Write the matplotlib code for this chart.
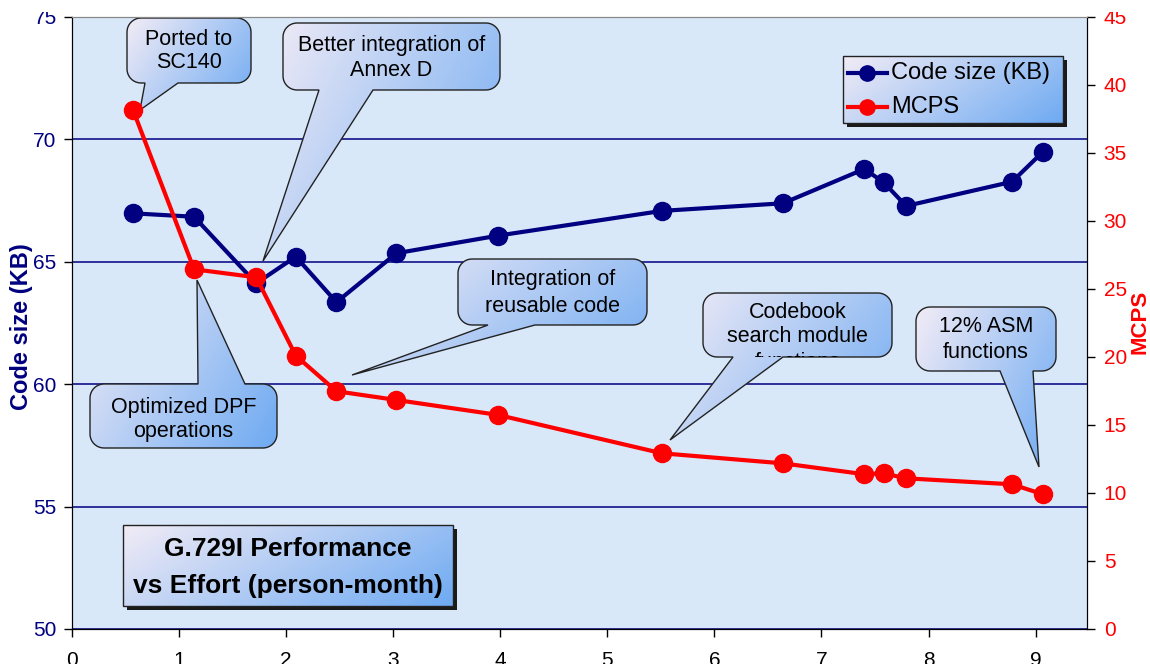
import numpy as np
import matplotlib
matplotlib.use("Agg")
import matplotlib.pyplot as plt
from matplotlib.path import Path
from matplotlib.patches import PathPatch, Rectangle
from matplotlib.lines import Line2D
from matplotlib.transforms import Bbox
from matplotlib.colors import to_rgb

plt.rcParams['font.family'] = ['Liberation Sans', 'DejaVu Sans']

# Effort in person-months and the two tracked metrics
effort = [0.57, 1.14, 1.72, 2.09, 2.47, 3.03, 3.98, 5.51, 6.64, 7.40, 7.58, 7.79, 8.78, 9.07]
code_size_kb = [66.98, 66.84, 64.12, 65.21, 63.35, 65.35, 66.07, 67.08, 67.39, 68.79, 68.25, 67.28, 68.27, 69.50]
mcps = [38.16, 26.45, 25.86, 20.10, 17.48, 16.84, 15.74, 12.92, 12.18, 11.38, 11.45, 11.08, 10.64, 9.90]

x_ticks = list(range(0, 10))
left_ticks = [50, 55, 60, 65, 70, 75]
right_ticks = [0, 5, 10, 15, 20, 25, 30, 35, 40, 45]

series_names = ["Code size (KB)", "MCPS"]
chart_title = ["G.729I Performance", "vs Effort (person-month)"]

callout_texts = [
    ["Ported to", "SC140"],
    ["Better integration of", "Annex D"],
    ["Optimized DPF", "operations"],
    ["Integration of", "reusable code"],
    ["Codebook", "search module", "functions"],
    ["12% ASM", "functions"],
]

NAVY = "#000080"
RED = "#ff0000"
W, H = 1150, 664

fig = plt.figure(figsize=(W / 100, H / 100), dpi=100)
fig.patch.set_facecolor("white")
ax = fig.add_axes([72 / W, 1 - 629 / H, (1087 - 72) / W, (629 - 17) / H])
ax.set_facecolor("#d9e8f9")
ax2 = ax.twinx()

ax.set_xlim(0, 9.48)
ax.set_ylim(50, 75)
ax2.set_ylim(0, 45)

ax.set_xticks(x_ticks)
ax.set_yticks(left_ticks)
ax2.set_yticks(right_ticks)

ax.tick_params(axis="x", direction="out", length=6, width=1, pad=10,
               labelsize=15, labelcolor="black")
ax.tick_params(axis="y", direction="out", length=6, width=1, pad=5,
               labelsize=15, labelcolor=NAVY)
ax2.tick_params(axis="y", direction="out", length=6, width=1, pad=6,
                labelsize=15, labelcolor=RED)

for a in (ax, ax2):
    a.spines["top"].set_color("#888888")
    a.spines["left"].set_color("black")
    a.spines["right"].set_color("black")
    a.spines["bottom"].set_color("black")

ax.set_axisbelow(True)
ax.yaxis.grid(True, color=NAVY, linewidth=1.1)
ax.xaxis.grid(False)

ax.plot(effort, code_size_kb, color=NAVY, lw=3, marker="o", ms=13,
        zorder=3, solid_joinstyle="round")
ax2.plot(effort, mcps, color=RED, lw=3, marker="o", ms=13,
         zorder=3, solid_joinstyle="round")

fig.text(22 / W, 1 - 327 / H, "Code size (KB)", rotation=90, ha="center",
         va="center", color=NAVY, fontsize=17, fontweight="bold")
fig.text(1140 / W, 1 - 322 / H, "MCPS", rotation=90, ha="center",
         va="center", color=RED, fontsize=16, fontweight="bold")

fig.canvas.draw()
inv = ax.transData.inverted()


def px2data(px, py):
    return inv.transform((px, H - py))


def pix_to_disp_bbox(x0, y0, x1, y1):
    return Bbox.from_extents(x0, H - y1, x1, H - y0)


C0 = np.array(to_rgb("#f2ecf6"))
C1 = np.array(to_rgb("#6eaaf2"))


def gradient_fill(verts_px, clip_patch, zorder, wx=0.65):
    xs = [v[0] for v in verts_px]
    ys = [v[1] for v in verts_px]
    bx0, bx1, by0, by1 = min(xs), max(xs), min(ys), max(ys)
    w = int(bx1 - bx0) + 1
    h = int(by1 - by0) + 1
    gx, gy = np.meshgrid(np.linspace(0, 1, w), np.linspace(0, 1, h))
    t = wx * gx + (1 - wx) * gy
    img = C0[None, None, :] * (1 - t[..., None]) + C1[None, None, :] * t[..., None]
    l, b = px2data(bx0, by1)
    r, tp = px2data(bx1, by0)
    im = ax.imshow(img, extent=[l, r, b, tp], aspect="auto", origin="upper",
                   zorder=zorder, interpolation="bilinear")
    im.set_clip_path(clip_patch)


def arc(cx, cy, r, a0, a1, n=10):
    a = np.radians(np.linspace(a0, a1, n))
    return [(cx + r * np.cos(t), cy + r * np.sin(t)) for t in a]


def bubble(x0, y0, x1, y1, side, b0, b1, tip, lines, line_ys, r=14,
           fontsize=15.5, zorder=2):
    pts = []
    pts += arc(x0 + r, y0 + r, r, 180, 270)
    if side == "top":
        pts += [(b0, y0), tip, (b1, y0)]
    pts += arc(x1 - r, y0 + r, r, 270, 360)
    pts += arc(x1 - r, y1 - r, r, 0, 90)
    if side == "bottom":
        pts += [(b1, y1), tip, (b0, y1)]
    pts += arc(x0 + r, y1 - r, r, 90, 180)
    verts = [tuple(px2data(px, py)) for px, py in pts]
    verts.append(verts[0])
    codes = [Path.MOVETO] + [Path.LINETO] * (len(verts) - 2) + [Path.CLOSEPOLY]
    patch = PathPatch(Path(verts, codes), facecolor="none", edgecolor="#222222",
                      lw=1.0, zorder=zorder + 0.1)
    ax.add_patch(patch)
    gradient_fill(pts, patch, zorder)
    clip = pix_to_disp_bbox(x0, y0, x1, y1)
    cx = (x0 + x1) / 2
    for txt, ly in zip(lines, line_ys):
        xd, yd = px2data(cx, ly)
        t = ax.text(xd, yd, txt, ha="center", va="center", fontsize=fontsize,
                    color="black", zorder=zorder + 0.2)
        t.set_clip_box(clip)
        t.set_clip_on(True)


bubble(127, 18, 251, 83, "bottom", 145, 178, (140, 110), callout_texts[0], [40, 63])
bubble(283, 23, 500, 90, "bottom", 319, 373, (263, 261), callout_texts[1], [46, 71])
bubble(90, 384, 277, 448, "top", 198, 245, (197, 280), callout_texts[2], [407, 432])
bubble(458, 259, 647, 325, "bottom", 488, 535, (352, 375), callout_texts[3], [280, 306])
bubble(703, 293, 892, 357, "bottom", 733, 783, (670, 440), callout_texts[4], [312, 337, 363])
bubble(916, 307, 1056, 371, "bottom", 1000, 1033, (1039, 467), callout_texts[5], [327, 353])


def shadow_box(x0, y0, x1, y1, zorder, off=4):
    l, b = px2data(x0 + off, y1 + off)
    r, tp = px2data(x1 + off, y0 + off)
    ax.add_patch(Rectangle((l, b), r - l, tp - b, facecolor="#1a1a1a",
                           edgecolor="none", zorder=zorder - 0.1))
    l, b = px2data(x0, y1)
    r, tp = px2data(x1, y0)
    box = Rectangle((l, b), r - l, tp - b, facecolor="none", edgecolor="#222222",
                    lw=1.0, zorder=zorder + 0.1)
    ax.add_patch(box)
    gradient_fill([(x0, y0), (x1, y1)], box, zorder, wx=0.7)


# Chart title panel
shadow_box(123, 525, 453, 606, zorder=5)
for txt, ly in zip(chart_title, [549, 586]):
    xd, yd = px2data(288, ly)
    ax.text(xd, yd, txt, ha="center", va="center", fontsize=19,
            fontweight="bold", color="black", zorder=5.3)

# Legend panel
shadow_box(843, 56, 1063, 123, zorder=5)
for name, color, ly in zip(series_names, [NAVY, RED], [73, 107]):
    xa, ya = px2data(848, ly)
    xb, _ = px2data(887, ly)
    xm, _ = px2data(867.5, ly)
    ax.add_line(Line2D([xa, xb], [ya, ya], color=color, lw=3, zorder=5.3))
    ax.add_line(Line2D([xm], [ya], color=color, marker="o", ms=11, zorder=5.4))
    xt, yt = px2data(891, ly)
    ax.text(xt, yt, name, ha="left", va="center", fontsize=17, color="black",
            zorder=5.3)

ax.set_xlim(0, 9.48)
ax.set_ylim(50, 75)

# white band across the very top edge
fig.patches.append(Rectangle((0, 1 - 12 / H), 1, 12 / H, transform=fig.transFigure,
                             facecolor="white", edgecolor="none", zorder=20))

fig.savefig("out.png", dpi=100)
